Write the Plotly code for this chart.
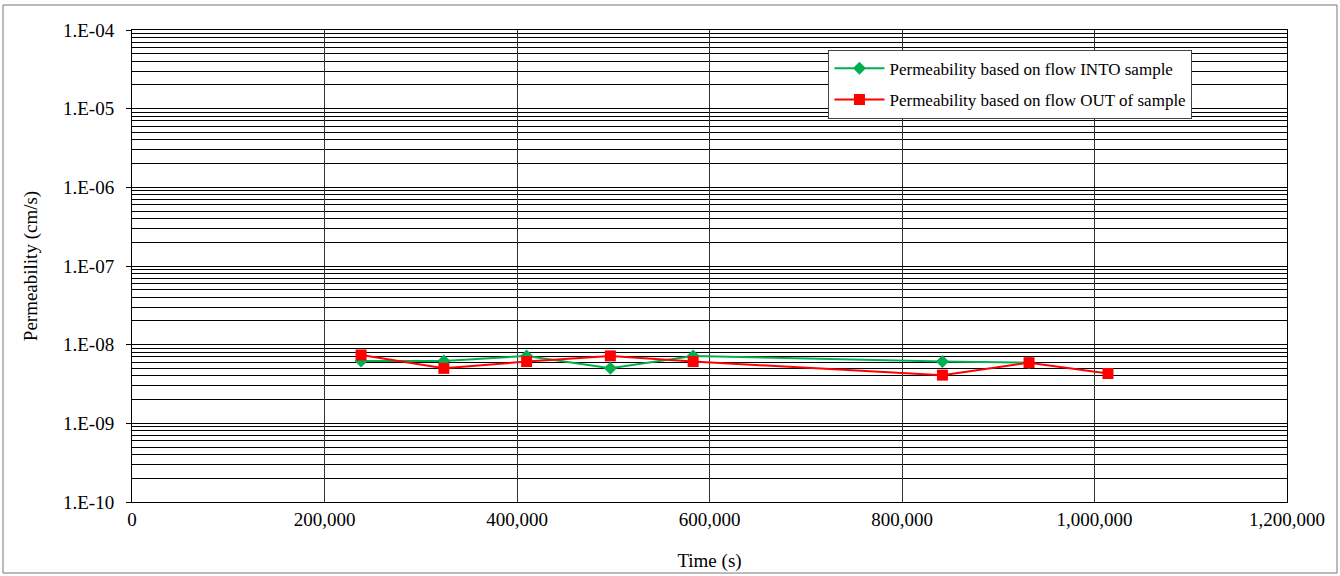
import plotly.graph_objects as go

# Data
time_into = [238000, 324000, 410000, 497000, 583000, 842000, 932000]
perm_into = [6.2e-9, 6.2e-9, 7.2e-9, 5.0e-9, 7.2e-9, 6.1e-9, 5.9e-9]

time_out = [238000, 324000, 410000, 497000, 583000, 842000, 932000, 1014000]
perm_out = [7.4e-9, 5.0e-9, 6.1e-9, 7.2e-9, 6.1e-9, 4.1e-9, 5.9e-9, 4.3e-9]

y_tickvals = [1e-10, 1e-9, 1e-8, 1e-7, 1e-6, 1e-5, 1e-4]
y_ticktext = ["1.E-10", "1.E-09", "1.E-08", "1.E-07", "1.E-06", "1.E-05", "1.E-04"]

FONT = "Liberation Serif, Times New Roman, serif"
FS = 19

fig = go.Figure()
fig.add_trace(go.Scatter(
    x=time_into, y=perm_into, mode="lines+markers",
    name="Permeability based on flow INTO sample",
    line=dict(color="#00B050", width=2),
    marker=dict(symbol="diamond", size=10, color="#00B050"),
    legendgroup="a",
))
fig.add_trace(go.Scatter(
    x=time_out, y=perm_out, mode="lines+markers",
    name="Permeability based on flow OUT of sample",
    line=dict(color="#FF0000", width=2),
    marker=dict(symbol="square", size=11, color="#FF0000"),
    legendgroup="b",
))

fig.update_layout(
    width=1340, height=576,
    margin=dict(l=132, r=53, t=30, b=74),
    paper_bgcolor="white", plot_bgcolor="white",
    font=dict(family=FONT, size=FS, color="black"),
    showlegend=True,
    legend=dict(
        x=0.603, y=0.958, xanchor="left", yanchor="top",
        bgcolor="white", bordercolor="#444", borderwidth=1,
        font=dict(family=FONT, size=17, color="black"),
        tracegroupgap=6, itemwidth=50,
    ),
    xaxis=dict(
        range=[0, 1200000], dtick=200000, tickformat=",",
        showgrid=True, gridcolor="#333", gridwidth=1,
        showline=True, linecolor="black", linewidth=1, mirror=True,
        ticks="", zeroline=False, automargin=False,
        title=dict(text="Time (s)", font=dict(size=FS), standoff=24),
        tickfont=dict(size=FS),
    ),
    yaxis=dict(
        type="log", range=[-10, -4],
        tickvals=y_tickvals, ticktext=y_ticktext,
        showgrid=True, gridcolor="black", gridwidth=1,
        minor=dict(dtick="D1", showgrid=True, gridcolor="black", gridwidth=1, ticks=""),
        showline=True, linecolor="black", linewidth=1, mirror=True,
        ticks="outside", ticklen=5, tickcolor="black", ticklabelstandoff=8,
        automargin=False,
        title=dict(text="Permeability (cm/s)", font=dict(size=FS), standoff=20),
        tickfont=dict(size=FS),
    ),
    shapes=[dict(type="rect", xref="paper", yref="paper",
                 x0=-129/1155, x1=(1337-132)/1155, y0=-(573-502)/472, y1=(502-5)/472,
                 line=dict(color="#777", width=1), fillcolor="rgba(0,0,0,0)", layer="below")],
)

fig.write_html("out.html", config={"displayModeBar": False},
               post_script="document.body.style.margin='0';")
